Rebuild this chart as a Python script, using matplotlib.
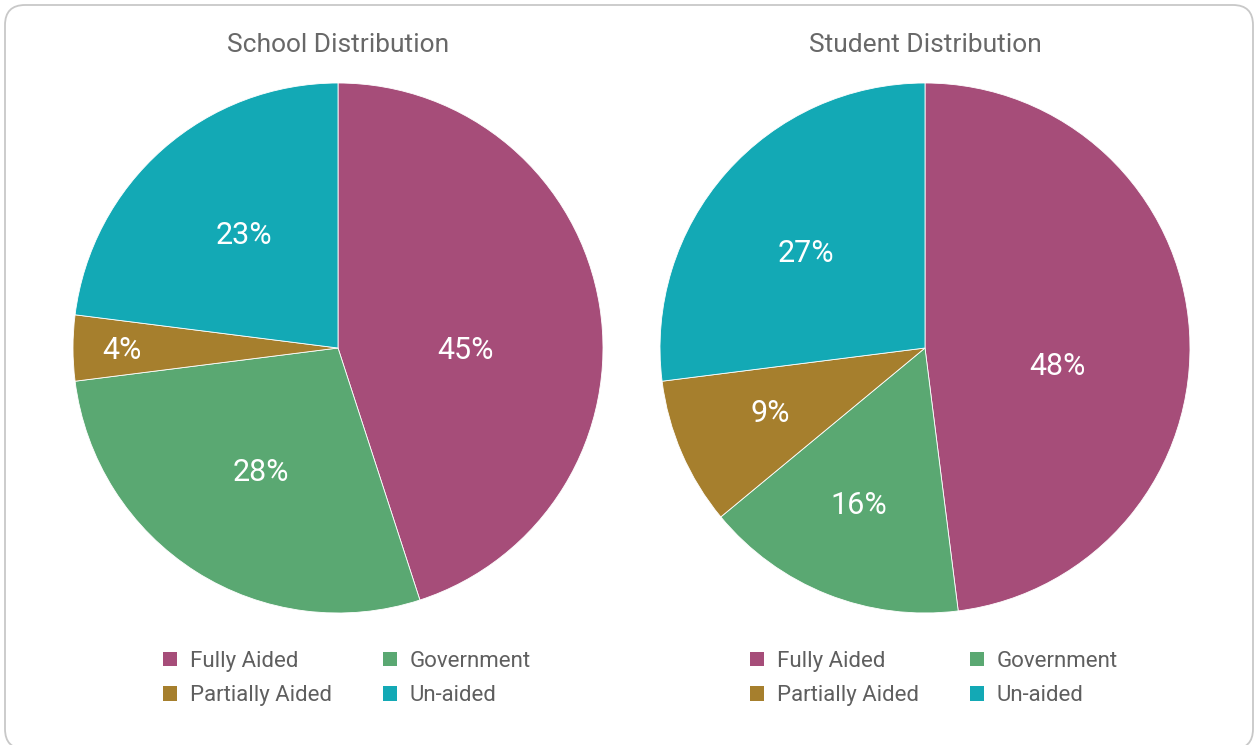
import matplotlib
matplotlib.use("Agg")
import matplotlib.pyplot as plt
from matplotlib.patches import FancyBboxPatch, Patch

plt.rcParams['font.family'] = ['Roboto', 'DejaVu Sans']

# Data
CATEGORIES = ['Fully Aided', 'Government', 'Partially Aided', 'Un-aided']
SCHOOL_PCT = [45, 28, 4, 23]
STUDENT_PCT = [48, 16, 9, 27]
COLORS = ['#a64d79', '#5aa872', '#a67f2d', '#13a9b5']

# Label anchor points inside each pie, in units of the radius
SCHOOL_LABEL_XY = [(0.48, -0.008), (-0.29, -0.468), (-0.815, -0.008), (-0.355, 0.426)]
STUDENT_LABEL_XY = [(0.50, -0.068), (-0.25, -0.593), (-0.585, -0.246), (-0.45, 0.358)]

W, H = 1255, 745
fig = plt.figure(figsize=(W / 100, H / 100), dpi=100)

# Card outline with rounded corners
card = FancyBboxPatch((5 / W, -4 / H), 1248 / W, 744 / H,
                      boxstyle="round,pad=0,rounding_size=0.016",
                      transform=fig.transFigure, facecolor='none',
                      edgecolor='#c8c8c8', linewidth=1.3, mutation_aspect=W / H)
fig.patches.append(card)


def draw_pie(cx, title, values, label_xy):
    r = 265
    ax = fig.add_axes([(cx - r) / W, (H - 348 - r) / H, 2 * r / W, 2 * r / H])
    ax.pie(values, colors=COLORS, startangle=90, counterclock=False,
           radius=1, wedgeprops=dict(linewidth=0.6, edgecolor='white'))
    ax.set_xlim(-1, 1)
    ax.set_ylim(-1, 1)
    ax.set_aspect('equal')
    ax.axis('off')

    for v, (lx, ly) in zip(values, label_xy):
        ax.text(lx, ly, f"{v}%", color='white', fontsize=22,
                ha='center', va='center')

    fig.text(cx / W, 1 - 45 / H, title, ha='center', va='center',
             fontsize=19, color='#686868')

    handles = [Patch(facecolor=c, edgecolor='none') for c in COLORS]
    # two columns, row-major order
    order = [0, 2, 1, 3]
    fig.legend([handles[i] for i in order], [CATEGORIES[i] for i in order],
               ncol=2, loc='center', bbox_to_anchor=((cx + 9) / W, 1 - 678.5 / H),
               frameon=False, fontsize=16, handlelength=0.63, handleheight=0.63,
               handletextpad=0.58, columnspacing=2.3, labelspacing=0.62,
               labelcolor='#5f5f5f')


draw_pie(338, 'School Distribution', SCHOOL_PCT, SCHOOL_LABEL_XY)
draw_pie(925, 'Student Distribution', STUDENT_PCT, STUDENT_LABEL_XY)

fig.savefig('out.png', dpi=100)
